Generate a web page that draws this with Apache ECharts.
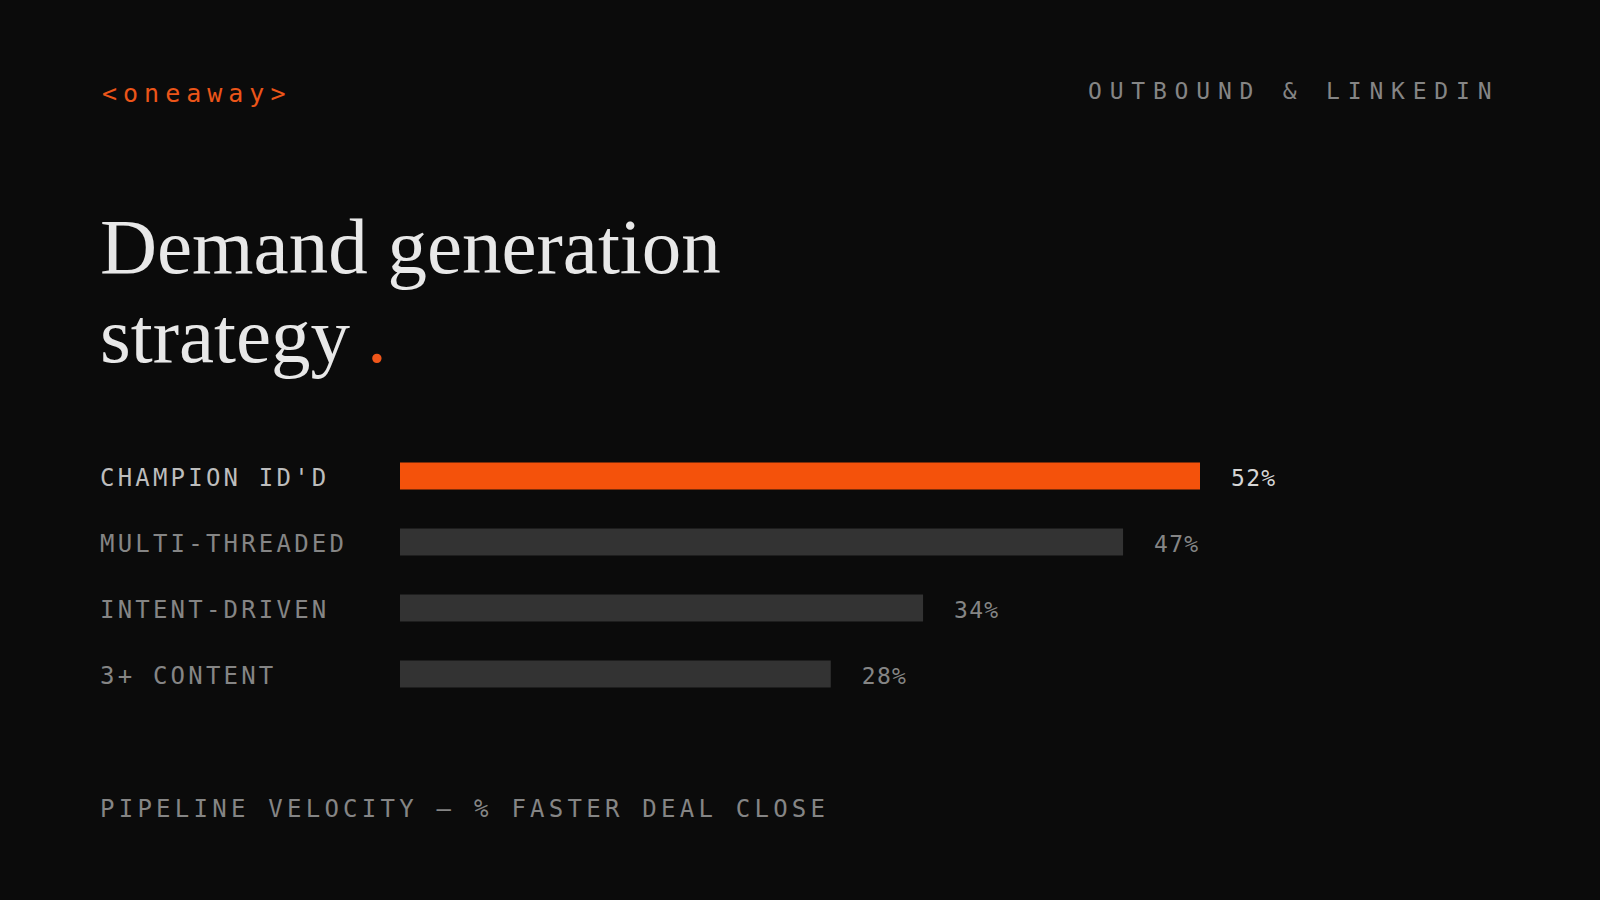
<!DOCTYPE html>
<html>

<head>
	<meta charset="utf-8">
	<title>Demand generation strategy</title>
	<script src="https://cdn.jsdelivr.net/npm/echarts@6/dist/echarts.min.js"></script>
	<style>
		html, body {
			margin: 0;
			padding: 0;
			width: 1600px;
			height: 900px;
			background: #0b0b0b;
			overflow: hidden;
		}
		.mono {
			position: absolute;
			font-family: 'DejaVu Sans Mono', monospace;
			line-height: 1;
			white-space: nowrap;
		}
		.logo {
			left: 102px;
			top: 81px;
			font-size: 25px;
			letter-spacing: 6px;
			color: #ec5519;
		}
		.tag {
			left: 1088px;
			top: 80px;
			font-size: 23px;
			letter-spacing: 7.8px;
			color: #858585;
		}
		.title {
			position: absolute;
			left: 100px;
			top: 202px;
			font-family: 'Liberation Serif', serif;
			font-size: 79px;
			line-height: 89px;
			color: #e8e8e8;
			white-space: nowrap;
		}
		.title .dot {
			color: #f0561a;
			margin-left: 17px;
		}
		.foot {
			left: 100px;
			top: 797px;
			font-size: 24px;
			letter-spacing: 4.25px;
			color: #858585;
		}
		#chart {
			position: absolute;
			left: 0;
			top: 0;
			width: 1600px;
			height: 900px;
		}
		/* svg renderer: widen the axis labels, value labels stay tight */
		#chart text {
			letter-spacing: 3.2px;
		}
		#chart text[style*="23px"] {
			letter-spacing: 1.3px;
		}
	</style>
</head>

<body>
	<div id="chart"></div>
	<div class="mono logo">&lt;oneaway&gt;</div>
	<div class="mono tag">OUTBOUND &amp; LINKEDIN</div>
	<div class="title">Demand generation<br>strategy<span class="dot">.</span></div>
	<div class="mono foot">PIPELINE VELOCITY — % FASTER DEAL CLOSE</div>
	<script>
		var categories = ["CHAMPION ID'D", 'MULTI-THREADED', 'INTENT-DRIVEN', '3+ CONTENT'];
		var velocity = [52, 47, 34, 28];

		var orange = '#f4520b',
			barGray = '#333333',
			topIdx = velocity.indexOf(Math.max.apply(null, velocity));

		var barData = velocity.map(function (v, i) {
			var hot = i === topIdx;
			return {
				value: v,
				itemStyle: { color: hot ? orange : barGray },
				label: { color: hot ? '#d6d6d6' : '#858585' }
			};
		});

		var chart = echarts.init(document.getElementById('chart'), null, { renderer: 'svg' });
		chart.setOption({
			backgroundColor: 'transparent',
			animation: false,
			grid: {
				left: 400,
				right: 400,
				top: 443,
				bottom: 193
			},
			xAxis: {
				type: 'value',
				min: 0,
				max: 'dataMax',
				show: false
			},
			yAxis: {
				type: 'category',
				inverse: true,
				data: categories,
				axisLine: { show: false },
				axisTick: { show: false },
				splitLine: { show: false },
				axisLabel: {
					align: 'left',
					verticalAlign: 'top',
					lineHeight: 4,
					margin: 300,
					fontSize: 24,
					fontFamily: "'DejaVu Sans Mono', monospace",
					color: function (val, idx) {
						return idx === topIdx ? '#bdbdbd' : '#858585';
					}
				}
			},
			series: [{
				type: 'bar',
				barWidth: 27,
				data: barData,
				label: {
					show: true,
					position: 'right',
					distance: 31,
					offset: [0, 2],
					fontSize: 23,
					fontFamily: "'DejaVu Sans Mono', monospace",
					formatter: '{c}%'
				}
			}]
		});
	</script>
</body>

</html>
